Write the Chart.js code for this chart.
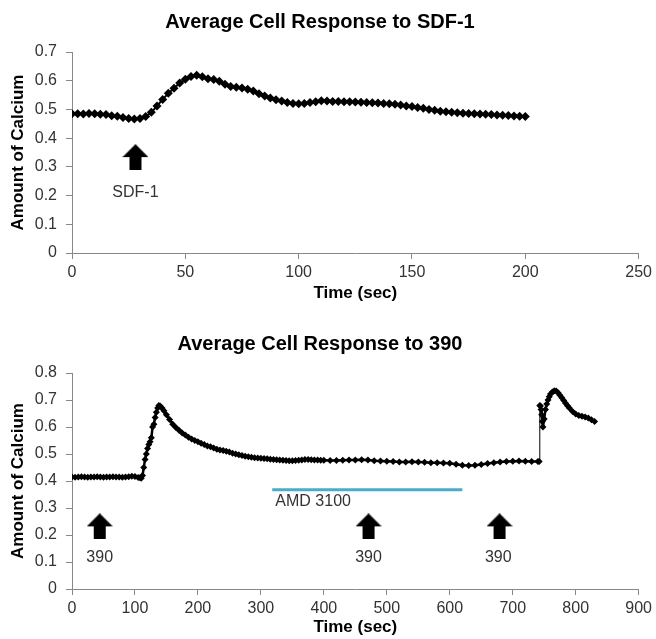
<!DOCTYPE html>
<html>
<head>
<meta charset="utf-8">
<script src="https://cdn.jsdelivr.net/npm/chart.js@4.4.0/dist/chart.umd.min.js"></script>
<style>
  body { margin: 0; background: #fff; }
  canvas { display: block; }
</style>
</head>
<body>
<canvas id="sdfChart" width="656" height="305"></canvas>
<canvas id="chart390" width="656" height="334"></canvas>
<script>
// --- Chart 1: response to SDF-1 ---
const times1 = [0, 2.5, 5, 7.5, 10, 12.5, 15, 17.5, 20, 22.5, 25, 27.5, 30, 32.5, 35, 37.5, 40, 42.5, 45, 47.5,
  50, 52.5, 55, 57.5, 60, 62.5, 65, 67.5, 70, 72.5, 75, 77.5, 80, 82.5, 85, 87.5, 90, 92.5, 95, 97.5,
  100, 102.5, 105, 107.5, 110, 112.5, 115, 117.5, 120, 122.5, 125, 127.5, 130, 132.5, 135, 137.5, 140, 142.5, 145, 147.5,
  150, 152.5, 155, 157.5, 160, 162.5, 165, 167.5, 170, 172.5, 175, 177.5, 180, 182.5, 185, 187.5, 190, 192.5, 195, 197.5, 200];
const calcium1 = [0.485, 0.485, 0.484, 0.486, 0.485, 0.483, 0.482, 0.478, 0.476, 0.472, 0.468, 0.467, 0.468, 0.475, 0.490, 0.512, 0.535, 0.556, 0.574, 0.592,
  0.605, 0.615, 0.619, 0.614, 0.607, 0.604, 0.598, 0.588, 0.580, 0.577, 0.575, 0.570, 0.564, 0.555, 0.547, 0.540, 0.534, 0.529, 0.524, 0.521,
  0.520, 0.521, 0.524, 0.527, 0.530, 0.529, 0.528, 0.528, 0.527, 0.527, 0.526, 0.525, 0.524, 0.523, 0.522, 0.521, 0.520, 0.518, 0.515, 0.512,
  0.510, 0.507, 0.504, 0.500, 0.497, 0.494, 0.492, 0.490, 0.488, 0.487, 0.486, 0.485, 0.484, 0.483, 0.482, 0.481, 0.480, 0.479, 0.477, 0.476, 0.475];
const xTicks1 = { min: 0, max: 250, step: 50 };
const yTicks1 = { min: 0, max: 0.7, step: 0.1 };
const arrowTimes1 = [28];
const arrowLevels1 = [0.334];
const noteText1 = ['SDF-1'];
const noteTimes1 = [28];
const noteLevels1 = [0.209];

// --- Chart 2: response to 390 ---
const times2 = [0, 5, 10, 15, 20, 25, 30, 35, 40, 45, 50, 55, 60, 65, 70, 75, 80, 85, 90, 95, 100, 105,
  108, 110, 112, 114, 116, 118, 120, 122, 124, 126, 128, 130, 132, 134, 136, 138, 140, 143, 146, 150,
  155, 160, 165, 170, 175, 180, 185, 190, 195, 200, 205, 210, 215, 220, 225, 230, 235, 240, 245, 250,
  255, 260, 265, 270, 275, 280, 285, 290, 295, 300, 305, 310, 315, 320, 325, 330, 335, 340, 345, 350,
  355, 360, 365, 370, 375, 380, 385, 390, 395, 400,
  410, 420, 430, 440, 450, 460, 470, 480, 490, 500, 510, 520, 530, 540, 550, 560, 570, 580, 590, 600,
  610, 620, 630, 640, 650, 660, 670, 680, 690, 700, 710, 720, 730, 740,
  742, 743, 744, 745, 746, 747, 748, 750, 752, 754, 756, 758, 760, 763, 766, 769, 772, 775, 778, 781,
  784, 787, 790, 795, 800, 805, 810, 815, 820, 825, 830];
const calcium2 = [0.415, 0.414, 0.415, 0.416, 0.415, 0.414, 0.415, 0.415, 0.416, 0.415, 0.414, 0.415, 0.415, 0.416, 0.415, 0.415, 0.414, 0.415, 0.416, 0.418, 0.417, 0.413,
  0.412, 0.410, 0.420, 0.450, 0.480, 0.500, 0.520, 0.535, 0.545, 0.560, 0.600, 0.610, 0.635, 0.655, 0.670, 0.680, 0.678, 0.670, 0.660, 0.645,
  0.628, 0.610, 0.598, 0.588, 0.578, 0.570, 0.562, 0.556, 0.550, 0.545, 0.540, 0.535, 0.530, 0.527, 0.522, 0.518, 0.515, 0.513, 0.510, 0.507,
  0.503, 0.500, 0.497, 0.494, 0.492, 0.490, 0.488, 0.486, 0.485, 0.484, 0.483, 0.482, 0.481, 0.480, 0.479, 0.478, 0.477, 0.476, 0.475, 0.475,
  0.476, 0.477, 0.478, 0.480, 0.480, 0.479, 0.478, 0.478, 0.477, 0.477,
  0.476, 0.476, 0.477, 0.478, 0.478, 0.479, 0.478, 0.475, 0.474, 0.473, 0.472, 0.470, 0.470, 0.471, 0.470, 0.469, 0.468, 0.468, 0.467, 0.466,
  0.462, 0.458, 0.457, 0.458, 0.461, 0.465, 0.468, 0.470, 0.472, 0.473, 0.474, 0.473, 0.472, 0.472,
  0.472, 0.680, 0.678, 0.665, 0.645, 0.620, 0.600, 0.630, 0.665, 0.685, 0.700, 0.712, 0.722, 0.730, 0.734, 0.733, 0.727, 0.718, 0.708, 0.698,
  0.688, 0.679, 0.670, 0.657, 0.648, 0.643, 0.640, 0.637, 0.633, 0.627, 0.620];
const xTicks2 = { min: 0, max: 900, step: 100 };
const yTicks2 = { min: 0, max: 0.8, step: 0.1 };
const arrowTimes2 = [44, 471, 679];
const arrowLevels2 = [0.232, 0.232, 0.232];
const noteText2 = ['390', '390', '390'];
const noteTimes2 = [44, 471, 677];
const noteLevels2 = [0.116, 0.116, 0.116];
const amdTimes = [318, 620];
const amdLevel = 0.368;
const amdLabel = 'AMD 3100';
const amdLabelTime = 323;
const amdLabelLevel = 0.323;

const FONT = '"Liberation Sans", Arial, sans-serif';
Chart.defaults.font.family = FONT;
Chart.defaults.animation = false;

// block arrow pointing up, used as point style
function makeArrow() {
  const c = document.createElement('canvas');
  c.width = 26; c.height = 26;
  const g = c.getContext('2d');
  g.fillStyle = '#000';
  g.beginPath();
  g.moveTo(13, 0);
  g.lineTo(26, 13);
  g.lineTo(19, 13);
  g.lineTo(19, 26);
  g.lineTo(7, 26);
  g.lineTo(7, 13);
  g.lineTo(0, 13);
  g.closePath();
  g.fill();
  return c;
}
const arrowImg = makeArrow();

const notesPlugin = {
  id: 'notes',
  afterDatasetsDraw(chart, args, opts) {
    const { ctx, scales: { x, y } } = chart;
    ctx.save();
    ctx.font = '16px ' + FONT;
    ctx.fillStyle = '#333';
    ctx.textBaseline = 'middle';
    (opts.items || []).forEach(it => {
      ctx.textAlign = it.align || 'center';
      ctx.fillText(it.text, x.getPixelForValue(it.x), y.getPixelForValue(it.y));
    });
    ctx.restore();
  }
};

const pairs = (xs, ys) => xs.map((t, i) => ({ x: t, y: ys[i] }));

function buildOptions(title, xt, yt, titlePad, xHeight, notes) {
  return {
    responsive: false,
    layout: { padding: { left: 0, right: 656 - 640, top: 0, bottom: 0 } },
    plugins: {
      legend: { display: false },
      tooltip: { enabled: false },
      title: {
        display: true,
        text: title,
        color: '#000',
        font: { size: 20, weight: 'bold' },
        padding: titlePad
      },
      notes: { items: notes }
    },
    scales: {
      x: {
        type: 'linear',
        min: xt.min, max: xt.max,
        ticks: { stepSize: xt.step, color: '#333', font: { size: 16 }, padding: 4, maxRotation: 0 },
        grid: { drawOnChartArea: false, drawTicks: true, tickLength: 6, color: '#888' },
        border: { color: '#888', width: 1 },
        title: { display: true, text: 'Time (sec)', color: '#000', font: { size: 17, weight: 'bold' }, padding: { top: 0, bottom: 1 } },
        afterFit: s => { s.height = xHeight; }
      },
      y: {
        min: yt.min, max: yt.max,
        ticks: { stepSize: yt.step, color: '#333', font: { size: 16 }, padding: 9 },
        grid: { drawOnChartArea: false, drawTicks: true, tickLength: 6, color: '#888' },
        border: { color: '#888', width: 1 },
        title: { display: true, text: 'Amount of Calcium', color: '#000', font: { size: 17, weight: 'bold' }, padding: { top: 8, bottom: 0 } },
        afterFit: s => { s.width = 72; }
      }
    }
  };
}

// chart 1
new Chart(document.getElementById('sdfChart'), {
  type: 'scatter',
  data: {
    datasets: [
      {
        data: pairs(times1, calcium1),
        showLine: true,
        borderColor: '#000',
        borderWidth: 2,
        backgroundColor: '#000',
        pointStyle: 'rectRot',
        pointRadius: 4.5,
        pointBorderWidth: 0
      },
      {
        data: pairs(arrowTimes1, arrowLevels1),
        pointStyle: arrowImg,
        pointRadius: 13
      }
    ]
  },
  options: buildOptions('Average Cell Response to SDF-1', xTicks1, yTicks1,
    { top: 10, bottom: 18 }, 52,
    noteText1.map((t, i) => ({ text: t, x: noteTimes1[i], y: noteLevels1[i] }))),
  plugins: [notesPlugin]
});

// chart 2
const notes2 = noteText2.map((t, i) => ({ text: t, x: noteTimes2[i], y: noteLevels2[i] }));
notes2.push({ text: amdLabel, x: amdLabelTime, y: amdLabelLevel, align: 'left' });

new Chart(document.getElementById('chart390'), {
  type: 'scatter',
  data: {
    datasets: [
      {
        data: amdTimes.map(t => ({ x: t, y: amdLevel })),
        showLine: true,
        borderColor: '#4bacc6',
        borderWidth: 3,
        pointRadius: 0
      },
      {
        data: pairs(times2, calcium2),
        showLine: true,
        borderColor: '#000',
        borderWidth: 2.5,
        // the sudden jump at the second dose shows as a thin connector
        segment: {
          borderWidth: c => Math.abs(c.p1.parsed.y - c.p0.parsed.y) > 0.1 ? 1 : undefined
        },
        backgroundColor: '#000',
        pointStyle: 'rectRot',
        pointRadius: 3.5,
        pointBorderWidth: 0
      },
      {
        data: pairs(arrowTimes2, arrowLevels2),
        pointStyle: arrowImg,
        pointRadius: 13
      }
    ]
  },
  options: buildOptions('Average Cell Response to 390', xTicks2, yTicks2,
    { top: 27, bottom: 17 }, 50, notes2),
  plugins: [notesPlugin]
});
</script>
</body>
</html>
